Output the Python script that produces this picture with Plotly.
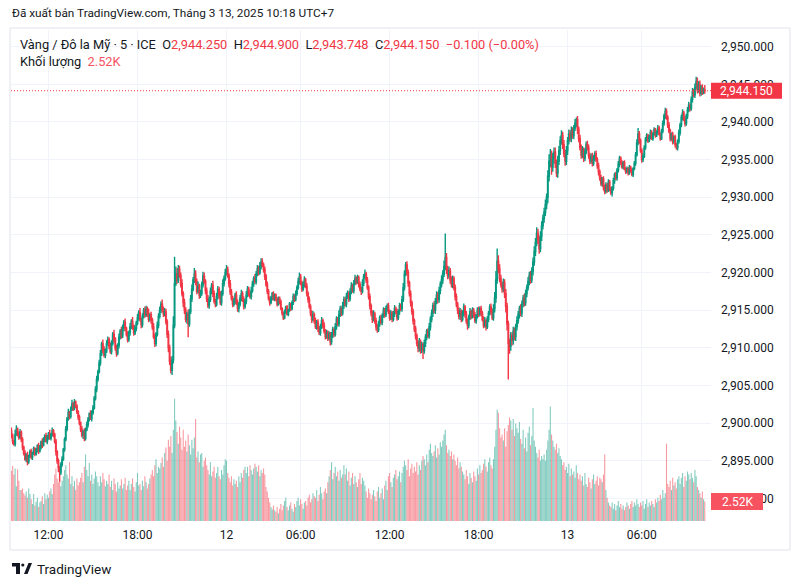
import plotly.graph_objects as go

# ---------------- data (5-minute candles, XAU/USD) ----------------
BASE = 2880.0            # prices below are stored in tenths of a dollar above BASE
FIRST_OPEN_T = 190

CLOSE_T = [
    183,176,172,185,192,186,181,188,178,168,
    160,152,157,149,156,162,155,160,166,159,
    164,170,163,168,175,171,178,183,176,181,
    186,180,184,190,185,176,162,150,141,135,
    145,152,165,178,192,205,214,209,218,225,
    220,228,222,215,208,200,192,184,188,180,
    191,198,205,212,206,214,220,233,245,258,
    268,280,292,305,298,290,296,305,311,302,
    295,306,318,312,300,293,303,314,322,316,
    327,334,326,318,311,320,328,335,329,320,
    326,333,340,347,338,331,342,350,344,352,
    346,338,344,337,328,315,306,318,330,342,
    350,358,352,345,348,335,318,300,282,270,
    284,330,385,398,390,404,396,385,372,360,
    350,338,345,332,348,365,378,390,398,388,
    375,382,370,372,384,395,388,376,365,356,
    364,375,383,372,362,358,368,378,370,360,
    372,385,392,400,404,396,385,374,366,358,
    362,370,360,352,358,366,372,364,355,362,
    370,378,372,368,376,385,392,388,398,405,
    400,408,414,410,404,395,384,375,366,360,
    366,372,365,370,364,358,366,361,352,346,
    340,348,354,345,350,358,352,360,368,364,
    372,380,388,394,386,378,384,390,382,372,
    364,355,346,338,344,336,328,334,326,320,
    328,336,330,322,315,320,313,318,308,316,
    324,318,328,338,332,344,352,346,356,364,
    358,368,372,365,375,382,376,386,392,388,
    393,384,378,375,386,394,398,390,380,368,
    356,346,338,345,336,328,324,332,340,334,
    343,350,344,352,356,348,340,346,338,345,
    352,348,340,348,356,352,364,380,398,410,
    400,386,372,360,348,336,325,316,306,300,
    308,298,304,296,306,314,322,316,328,338,
    346,356,350,362,370,364,376,384,390,398,
    408,420,404,396,402,390,384,392,380,368,
    358,350,342,348,338,346,354,345,336,330,
    340,348,342,350,344,336,342,350,345,352,
    346,338,330,336,328,338,346,354,348,340,
    352,366,390,415,405,392,384,378,386,372,
    355,332,306,302,316,310,322,315,328,336,
    344,352,346,358,366,360,372,380,388,396,
    390,402,414,428,440,452,444,432,448,462,
    472,480,490,500,528,548,556,540,552,560,
    545,532,548,562,575,582,570,558,548,562,
    575,584,578,588,582,592,598,603,590,578,
    566,556,562,552,560,570,566,556,548,554,
    545,552,558,550,542,534,526,518,524,514,
    508,516,510,520,512,506,512,522,530,526,
    536,544,552,546,540,546,538,534,538,532,
    540,536,530,538,545,556,572,584,575,562,
    550,554,566,576,582,575,580,586,578,584,
    590,582,586,592,584,578,588,598,608,614,
    606,596,588,578,584,574,580,570,566,574,
    586,596,606,612,604,598,608,616,622,618,
    630,640,636,646,654,642,650,638,646,640,
    642.5,641.5,
]

# upper / lower wick lengths, tenths of a dollar
UP_T = [
    4,3,2,6,5,2,3,4,2,3,2,4,3,5,2,3,4,2,3,2,
    3,2,4,3,2,5,3,2,4,3,2,5,3,4,2,2,3,2,3,2,
    3,4,2,3,4,3,5,2,4,6,3,4,2,3,2,3,2,4,3,5,
    3,4,3,2,5,3,4,3,4,5,3,4,5,3,6,4,3,5,4,3,
    5,4,3,6,2,4,3,5,3,6,4,3,5,2,4,3,5,3,6,2,
    4,3,5,3,6,2,4,3,5,4,3,6,2,4,3,5,4,3,5,4,
    5,4,6,3,5,4,3,5,4,6,5,12,36,10,8,6,5,4,6,3,
    5,4,3,6,4,5,6,4,8,5,4,6,3,5,4,6,5,3,4,5,
    4,5,3,6,4,3,5,4,3,5,4,6,4,5,6,4,3,5,4,3,
    4,3,5,4,3,4,5,3,4,3,5,4,3,4,5,4,3,6,4,5,
    4,6,5,5,3,4,3,4,3,2,3,2,3,2,2,3,2,2,3,2,
    2,3,2,3,2,3,2,3,4,3,4,3,5,6,4,3,4,5,3,4,
    3,4,3,4,5,3,4,3,4,3,4,5,3,4,3,4,3,4,3,5,
    4,3,5,4,3,6,4,3,5,4,3,5,4,3,4,5,3,4,5,3,
    4,3,4,3,5,4,6,3,4,3,4,3,4,5,3,4,3,4,3,4,
    3,4,3,4,3,4,3,4,3,4,5,3,4,3,4,3,5,6,5,4,
    5,4,3,4,3,4,3,4,3,4,5,3,4,3,5,4,3,4,5,4,
    5,4,6,4,5,4,5,4,6,5,8,32,6,5,6,4,5,4,3,4,
    4,3,4,5,3,4,5,3,4,3,4,5,3,4,3,4,3,4,5,3,
    4,3,4,5,3,4,3,4,5,4,6,8,12,17,8,6,5,4,6,5,
    6,5,4,6,5,4,6,5,4,6,5,4,6,5,4,6,5,4,6,5,
    6,5,6,7,6,8,6,5,7,6,5,6,7,5,8,9,8,6,7,6,
    6,5,7,6,6,7,5,6,5,6,5,6,5,6,5,4,6,3,5,4,
    5,4,6,4,5,4,5,4,3,4,5,4,3,4,3,4,3,4,3,4,
    3,4,3,4,3,2,3,4,3,4,3,4,3,2,3,2,3,2,3,2,
    3,2,3,2,3,4,5,8,4,3,3,4,3,4,3,2,3,4,3,2,
    3,2,3,4,3,2,3,4,3,5,4,3,4,3,2,3,2,3,2,3,
    4,3,4,5,3,4,3,4,5,3,4,5,4,5,6,5,4,5,3,4,
    3,6.5,
]
DN_T = [
    3,4,2,3,2,4,3,2,3,4,3,2,4,5,3,2,3,4,2,3,
    2,3,4,2,3,4,2,3,2,4,3,2,3,2,4,3,5,4,6,13,
    4,3,2,3,2,3,2,4,3,2,4,3,2,3,4,3,4,3,5,4,
    3,2,4,3,2,4,3,2,3,4,3,2,4,3,5,3,4,3,2,4,
    3,4,3,5,4,5,3,4,3,4,3,5,4,3,4,3,4,3,5,4,
    3,4,3,4,3,5,4,3,4,3,5,4,3,5,4,3,5,4,3,4,
    3,4,5,4,3,4,5,6,5,4,6,5,4,3,5,4,3,5,4,6,
    5,4,6,18,4,3,4,3,4,5,4,3,5,4,3,4,3,5,4,3,
    4,3,4,5,3,4,3,4,5,3,4,3,4,3,4,3,5,4,3,4,
    3,4,3,4,5,3,4,3,4,3,4,3,4,3,4,3,4,3,4,3,
    4,3,4,3,4,5,3,4,3,4,2,3,2,3,2,3,2,3,2,3,
    3,2,3,2,3,2,3,2,3,3,2,3,3,4,3,4,3,4,3,4,
    4,3,4,5,3,4,3,4,5,3,4,3,4,3,4,3,4,3,5,4,
    3,4,3,4,3,4,3,4,3,4,3,4,3,4,3,4,3,4,3,4,
    3,4,3,5,3,4,3,4,3,4,5,4,5,3,4,5,4,3,4,3,
    4,3,4,3,4,3,4,3,4,3,4,3,4,3,4,3,4,3,4,3,
    4,5,4,5,4,5,4,5,4,6,5,6,5,11,4,5,4,3,4,5,
    4,5,4,5,4,5,4,5,4,5,4,5,6,5,4,5,4,5,4,5,
    4,5,4,5,4,3,4,5,4,6,4,3,4,3,4,3,4,3,4,3,
    4,3,4,3,5,3,4,3,4,3,4,5,6,5,6,5,4,5,4,6,
    8,9,48,10,6,7,6,5,6,5,4,5,4,5,4,5,4,5,4,5,
    5,4,6,5,6,5,6,7,5,6,5,6,5,6,8,7,8,10,6,7,
    6,5,6,5,6,5,6,5,6,5,6,5,4,5,4,5,4,5,6,5,
    4,5,4,5,4,3,4,5,4,3,4,3,4,3,4,5,4,3,4,5,
    4,3,4,3,4,3,5,3,4,3,4,3,4,3,2,3,2,3,2,3,
    2,3,2,3,2,3,2,3,4,3,4,3,2,3,2,3,2,3,2,3,
    2,3,2,3,2,3,2,3,3,4,3,4,3,4,3,4,3,4,3,4,
    3,4,3,4,3,4,3,4,3,4,3,4,3,4,3,4,3,4,3,4,
    3,4.02,
]

# volume, hundreds of contracts
VOL_H = [
    65,71,60,68,45,67,52,40, 40,42,36,33,38,30,42,35,
    28,22,35,20,25,30,18,24, 26,32,22,36,28,34,30,38,
    42,35,48,60,68,55,50,62, 45,52,58,66,72,60,55,76,
    48,58,45,52,40,55,46,50, 56,62,50,70,86,66,58,75,
    52,60,48,55,64,58,50,45, 58,50,62,54,45,52,48,60,
    44,52,40,55,48,38,50,42, 46,54,42,48,56,40,46,52,
    40,48,55,44,38,50,62,46, 48,40,52,45,58,50,42,48,
    55,60,66,58,72,80,62,70, 68,75,82,70,88,95,78,105,
    96,110,88,118,158,130,
    115,100,122,108,92,118,96,104, 90,112,98,86,105,94,108,132,
    82,90,76,86,88,70,78,82, 72,66,60,76,58,64,70,56,
    62,70,58,54,66,60,72,80, 78,62,56,50,58,46,54,48,
    52,44,58,50,62,56,66,70, 62,70,58,72,66,60,68,74,
    70,64,72,58,66,62,68,60, 44,38,30,24,18,15,20,14,
    12,18,10,16,22,14,20,26, 30,18,14,20,24,16,12,22,
    18,26,30,20,28,22,16,24, 26,20,30,34,24,28,36,32,
    30,40,26,34,44,36,28,38, 42,36,50,58,66,76,54,62,
    70,58,64,52,66,56,60,72, 60,68,52,64,46,56,62,48,
    58,50,44,54,62,48,56,52, 46,38,30,42,36,28,34,40,
    32,26,38,44,30,36,42,28, 46,52,40,58,62,50,44,56,
    60,66,54,58,64,50,62,70, 78,72,66,80,58,68,74,62,
    70,64,76,60,72,66,78,84, 80,72,86,76,92,100,88,84,
    90,98,82,94,86,102,96,104, 112,118,98,88,92,84,90,80,
    86,78,72,82,68,76,70,64, 60,54,66,58,48,62,56,50,
    64,58,52,68,60,72,62,66, 74,80,70,64,76,82,72,68,
    80,96,118,144,140,120,108,
    112,104,120,96,116,124,134,130, 118,132,110,126,120,114,128,106,
    100,118,94,108,90,114,122,98, 110,146,104,96,88,82,92,78,
    84,80,86,78,92,104,118,148, 112,104,96,92,100,88,94,84,
    80,72,76,66,70,62,74,58, 68,60,64,56,72,62,54,60,
    52,58,46,62,48,44,56,50, 42,54,60,48,52,58,46,56,
    54,50,60,86,40,30,24,20, 18,24,16,22,14,20,26,18,
    22,16,20,14,18,24,20,16, 22,26,18,24,20,28,22,18,
    24,20,26,16,22,28,18,24, 20,26,22,18,28,24,30,26,
    34,28,40,30,36,100,48,44, 52,40,56,46,50,42,54,58,
    48,56,62,44,58,52,64,60, 54,62,56,50,66,58,44,40,
    36,30,38,28,25.2,
]

TICK_POS = [30, 102, 174, 234, 306, 378, 450, 510]
TICK_TEXT = ["12:00", "18:00", "12", "06:00", "12:00", "18:00", "13", "06:00"]

TITLE = "Đã xuất bản TradingView.com, Tháng 3 13, 2025 10:18 UTC+7"
SYMBOL = "Vàng / Đô la Mỹ · 5 · ICE"
VOL_LABEL = "Khối lượng"

assert len(CLOSE_T) == len(UP_T) == len(DN_T) == len(VOL_H), (
    len(CLOSE_T), len(UP_T), len(DN_T), len(VOL_H))

# ---------------- derived series ----------------
n = len(CLOSE_T)
xs = list(range(n))
close = [BASE + c / 10 for c in CLOSE_T]
opn = [BASE + FIRST_OPEN_T / 10] + close[:-1]
high = [max(o, c) + u / 10 for o, c, u in zip(opn, close, UP_T)]
low = [min(o, c) - d / 10 for o, c, d in zip(opn, close, DN_T)]
vol = [v / 10 for v in VOL_H]          # thousands

UP_C = "#089981"
DN_C = "#F23645"
vol_colors = ["rgba(8,153,129,0.5)" if c >= o else "rgba(242,54,69,0.5)"
              for o, c in zip(opn, close)]

# ---------------- geometry helpers (pixels -> paper) ----------------
W, H = 800, 587
L, R, T, B = 11, 89, 30, 66
PW, PH = W - L - R, H - T - B


def px(x):
    return (x - L) / PW


def py(y):
    return (H - B - y) / PH


PRICE_RANGE = [2886.99, 2952.22]
VOL_RANGE = [0, 63.5]

fig = go.Figure()
fig.add_trace(go.Bar(x=xs, y=vol, marker=dict(color=vol_colors, line=dict(width=0)),
                     yaxis="y", hoverinfo="skip", showlegend=False))
fig.add_trace(go.Candlestick(
    x=xs, open=opn, high=high, low=low, close=close, yaxis="y2",
    increasing=dict(line=dict(color=UP_C, width=1.4), fillcolor=UP_C),
    decreasing=dict(line=dict(color=DN_C, width=1.4), fillcolor=DN_C),
    whiskerwidth=0, hoverinfo="skip", showlegend=False))

GRID = "#F0F3FA"
TXT = "#131722"
FONT = "Roboto, sans-serif"

fig.update_layout(
    width=W, height=H, margin=dict(l=L, r=R, t=T, b=B),
    paper_bgcolor="white", plot_bgcolor="white", bargap=0.12,
    font=dict(family=FONT, color=TXT, size=12), hovermode=False,
    xaxis=dict(range=[-0.34, 566.0], tickvals=TICK_POS, ticktext=TICK_TEXT,
               showgrid=True, gridcolor=GRID, gridwidth=1, zeroline=False,
               showline=False, ticks="", ticklabelstandoff=5,
               tickfont=dict(size=12, color=TXT), rangeslider=dict(visible=False),
               fixedrange=True),
    yaxis=dict(range=VOL_RANGE, visible=False, fixedrange=True),
    yaxis2=dict(range=PRICE_RANGE, overlaying="y", side="right", anchor="x",
                tick0=2950, dtick=5, tickformat=",.3f", showgrid=True,
                gridcolor=GRID, gridwidth=1, zeroline=False, showline=False,
                ticks="", ticklabelstandoff=9, tickfont=dict(size=12, color=TXT),
                fixedrange=True),
)

last_o, last_h, last_l, last_c = opn[-1], high[-1], low[-1], close[-1]
chg = last_c - close[-2]
pct = chg / close[-2] * 100


def fmt(v):
    return f"{v:,.3f}"


RED = "#F23645"


def red(s):
    return f"<span style='color:{RED}'>{s}</span>"


sp = "&nbsp;&nbsp;"
sign = "−" if chg < 0 else "+"
line2 = (f"{SYMBOL}{sp}O{red(fmt(last_o))}{sp}H{red(fmt(last_h))}{sp}"
         f"L{red(fmt(last_l))}{sp}C{red(fmt(last_c))}{sp}"
         f"{red(sign + format(abs(chg), '.3f') + ' (' + sign + format(abs(pct), '.2f') + '%)')}")
line3 = f"{VOL_LABEL}{sp}<span style='color:#F7525F'>{vol[-1]:.2f}K</span>"

ann = [
    dict(x=px(10), y=py(13), text=TITLE, font=dict(size=11.8, color=TXT)),
    dict(x=px(18), y=py(44), text=line2, font=dict(size=12.8, color=TXT)),
    dict(x=px(18), y=py(61), text=line3, font=dict(size=12.8, color=TXT)),
    dict(x=px(35), y=py(569), text="TradingView", font=dict(size=13.5, color=TXT)),
]
for a in ann:
    a.update(xref="paper", yref="paper", xanchor="left", yanchor="middle",
             showarrow=False)

# price label on the scale
ppx = PH / (PRICE_RANGE[1] - PRICE_RANGE[0])
vpx = PH / (VOL_RANGE[1] - VOL_RANGE[0])
ann.append(dict(x=px(746.5), y=last_c, xref="paper", yref="y2", text=fmt(last_c),
                font=dict(size=12, color="white"), showarrow=False,
                xanchor="center", yanchor="middle"))
ann.append(dict(x=px(737), y=vol[-1], xref="paper", yref="y", text=f"{vol[-1]:.2f}K",
                font=dict(size=12, color="white"), showarrow=False,
                xanchor="center", yanchor="middle"))

shapes = [
    # outer frame
    dict(type="rect", xref="paper", yref="paper", x0=px(10), x1=px(790),
         y0=py(550), y1=py(28), line=dict(color="#E0E3EB", width=1), layer="below"),
    # last price dotted line
    dict(type="line", xref="paper", yref="y2", x0=0, x1=1, y0=last_c, y1=last_c,
         line=dict(color=RED, width=1, dash="1px,2px"), layer="above"),
    # price label box
    dict(type="rect", xref="paper", yref="y2", x0=px(711), x1=px(782),
         y0=last_c - 8 / ppx, y1=last_c + 8 / ppx, fillcolor=RED,
         line=dict(width=0), layer="above"),
    # volume label box
    dict(type="rect", xref="paper", yref="y", x0=px(711), x1=px(763),
         y0=vol[-1] - 8.5 / vpx, y1=vol[-1] + 8.5 / vpx, fillcolor="#F7525F",
         line=dict(width=0), layer="above"),
    # TradingView logo glyph
    dict(type="path", xref="paper", yref="paper", fillcolor=TXT, line=dict(width=0),
         path=(f"M{px(12)},{py(563)} L{px(20)},{py(563)} L{px(20)},{py(574)} "
               f"L{px(16)},{py(574)} L{px(16)},{py(566.5)} L{px(12)},{py(566.5)} Z")),
    dict(type="circle", xref="paper", yref="paper", fillcolor=TXT, line=dict(width=0),
         x0=px(21.2), x1=px(24.4), y0=py(566.6), y1=py(563.4)),
    dict(type="path", xref="paper", yref="paper", fillcolor=TXT, line=dict(width=0),
         path=(f"M{px(24)},{py(574)} L{px(28.5)},{py(563)} L{px(32)},{py(563)} "
               f"L{px(27.5)},{py(574)} Z")),
]

fig.update_layout(annotations=ann, shapes=shapes)
fig.write_html("out.html", config={"displayModeBar": False, "staticPlot": True})
